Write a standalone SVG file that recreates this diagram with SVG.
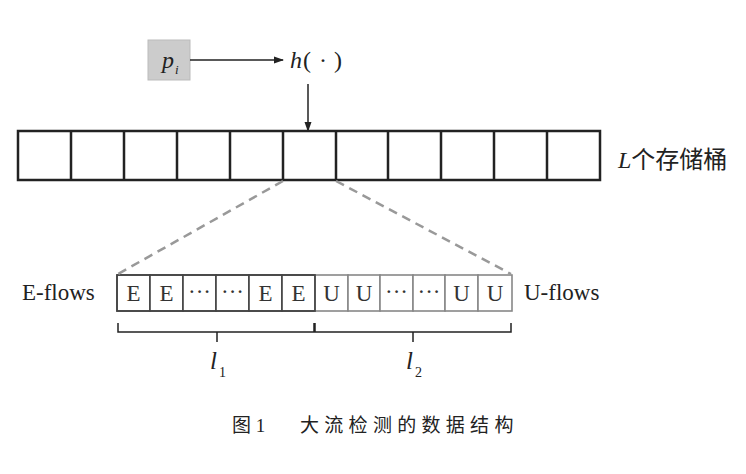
<svg xmlns="http://www.w3.org/2000/svg" width="746" height="474" viewBox="0 0 746 474">
<defs>
<marker id="arr" markerWidth="10" markerHeight="8" refX="9" refY="4" orient="auto" markerUnits="userSpaceOnUse">
<path d="M0,0.5 L10,4 L0,7.5 Z" fill="#222"/>
</marker>
<style>
.t{font-family:"Liberation Serif","Noto Sans CJK SC",serif;fill:#222}
.cell{fill:#fff;stroke:#222;stroke-width:2.5}
.ecell{fill:#fff;stroke:#444;stroke-width:1.6}
.ucell{fill:#fff;stroke:#888;stroke-width:1.6}
.ct{font-family:"Liberation Serif",serif;font-size:23px;fill:#333;text-anchor:middle}
.ln{stroke:#222;stroke-width:1.5;fill:none}
.dash{stroke:#999;stroke-width:2.5;stroke-dasharray:9,6;fill:none}
</style>
</defs>
<g id="pi">
<rect x="148" y="40" width="42" height="40" fill="#cccccc" stroke="#bbbbbb" stroke-width="1"/>
<text class="t" x="162" y="68" font-size="24" font-style="italic">p</text>
<text class="t" x="175" y="74" font-size="13" font-style="italic">i</text>
</g>
<g id="hash">
<text class="t" y="68" font-size="24"><tspan x="290" font-style="italic">h</tspan><tspan x="303">(</tspan><tspan x="319">·</tspan><tspan x="334">)</tspan></text>
</g>
<g id="buckets">
<rect class="cell" x="18" y="131" width="582" height="49"/>
<path class="ln" style="stroke-width:2.5" d="M71,131V180M124,131V180M177,131V180M230,131V180M283,131V180M336,131V180M388,131V180M441,131V180M494,131V180M547,131V180"/>
</g>
<g id="bucket-label">
<text class="t" x="618" y="168" font-size="24"><tspan font-style="italic">L</tspan>个存储桶</text>
</g>
<g id="flows">
<rect class="ecell" x="117" y="275" width="33" height="36"/>
<rect class="ecell" x="150" y="275" width="33" height="36"/>
<rect class="ecell" x="183" y="275" width="33" height="36"/>
<rect class="ecell" x="216" y="275" width="33" height="36"/>
<rect class="ecell" x="249" y="275" width="33" height="36"/>
<rect class="ecell" x="282" y="275" width="33" height="36"/>
<rect class="ucell" x="315" y="275" width="33" height="36"/>
<rect class="ucell" x="348" y="275" width="32" height="36"/>
<rect class="ucell" x="380" y="275" width="33" height="36"/>
<rect class="ucell" x="413" y="275" width="32" height="36"/>
<rect class="ucell" x="445" y="275" width="33" height="36"/>
<rect class="ucell" x="478" y="275" width="34" height="36"/>
<rect x="117" y="275" width="198" height="36" fill="none" stroke="#444" stroke-width="1.6"/>
<text class="ct" x="133.5" y="301">E</text>
<text class="ct" x="166.5" y="301">E</text>
<text class="ct" x="199.5" y="299">···</text>
<text class="ct" x="232.5" y="299">···</text>
<text class="ct" x="265.5" y="301">E</text>
<text class="ct" x="298.5" y="301">E</text>
<text class="ct" x="331.5" y="301">U</text>
<text class="ct" x="364" y="301">U</text>
<text class="ct" x="396.5" y="299">···</text>
<text class="ct" x="429" y="299">···</text>
<text class="ct" x="461.5" y="301">U</text>
<text class="ct" x="495" y="301">U</text>
</g>
<g id="e-label"><text class="t" x="22" y="300" font-size="23">E-flows</text></g>
<g id="u-label"><text class="t" x="524" y="300" font-size="23">U-flows</text></g>
<g id="braces">
<path class="ln" d="M118,323V332H314V323M315,323V332H511V323M217,332V342M413,332V342"/>
</g>
<g id="l1"><text class="t" x="210" y="369" font-size="25" font-style="italic">l</text><text class="t" x="219" y="377" font-size="14">1</text></g>
<g id="l2"><text class="t" x="406" y="369" font-size="25" font-style="italic">l</text><text class="t" x="415" y="377" font-size="14">2</text></g>
<g id="connectors">
<line class="ln" x1="190" y1="60" x2="283" y2="60" marker-end="url(#arr)"/>
<line class="ln" x1="308" y1="84" x2="308" y2="131" marker-end="url(#arr)"/>
<line class="dash" x1="283" y1="181" x2="118" y2="274"/>
<line class="dash" x1="336" y1="181" x2="511" y2="274"/>
</g>
<g id="caption">
<text class="t" x="232" y="432" font-size="19" xml:space="preserve">图 1</text>
<text class="t" x="300" y="432" font-size="19" letter-spacing="5.3">大流检测的数据结构</text>
</g>
</svg>
